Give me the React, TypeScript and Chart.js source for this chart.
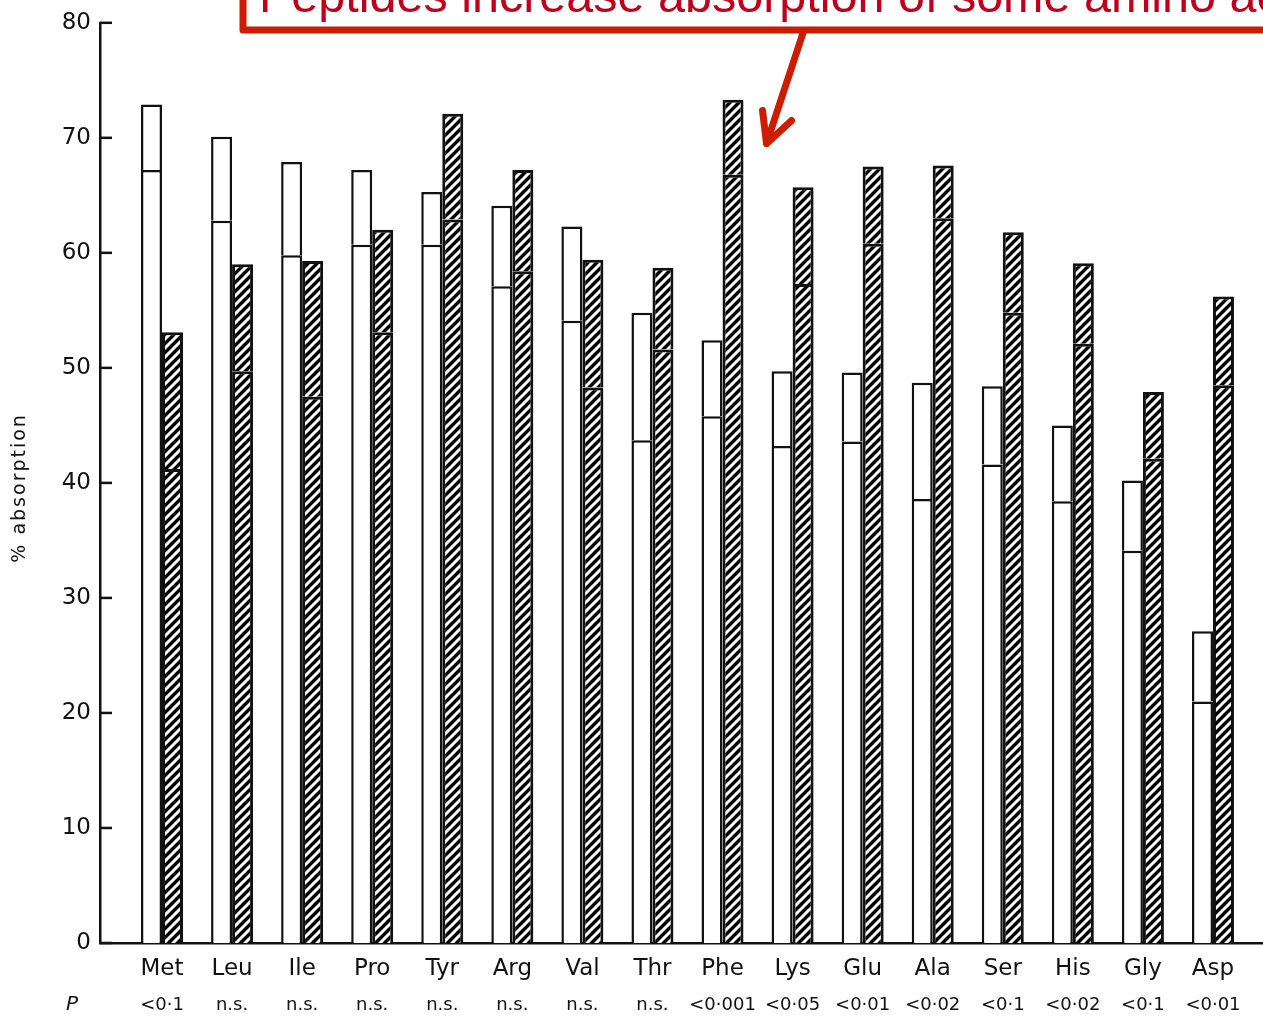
import React, { useEffect, useRef } from 'react';
import { Chart, registerables } from 'chart.js';

Chart.register(...registerables);

const categories = ['Met', 'Leu', 'Ile', 'Pro', 'Tyr', 'Arg', 'Val', 'Thr', 'Phe', 'Lys', 'Glu', 'Ala', 'Ser', 'His', 'Gly', 'Asp'];
const pValues = ['<0·1', 'n.s.', 'n.s.', 'n.s.', 'n.s.', 'n.s.', 'n.s.', 'n.s.', '<0·001', '<0·05', '<0·01', '<0·02', '<0·1', '<0·02', '<0·1', '<0·01'];
// free amino acid (open bars): top of bar and inner line
const freeTop = [72.9, 70.1, 67.9, 67.2, 65.3, 64.1, 62.3, 54.8, 52.4, 49.7, 49.6, 48.7, 48.4, 45.0, 40.2, 27.1];
const freeInner = [67.2, 62.8, 59.8, 60.7, 60.7, 57.1, 54.1, 43.7, 45.8, 43.2, 43.6, 38.6, 41.6, 38.4, 34.1, 21.0];
// peptide (hatched bars): top of bar and inner line
const peptideTop = [53.1, 59.0, 59.3, 62.0, 72.1, 67.2, 59.4, 58.7, 73.3, 65.7, 67.5, 67.6, 61.8, 59.1, 47.9, 56.2];
const peptideInner = [41.2, 49.7, 47.5, 53.1, 62.9, 58.4, 48.3, 51.6, 66.8, 57.3, 60.8, 63.0, 54.8, 52.1, 42.1, 48.5];
const yTicks = [0, 10, 20, 30, 40, 50, 60, 70, 80];
const yTitle = '% absorption';
const pLabel = 'P';
const annotationText = 'Peptides increase absorption of some amino acids';
const annotatedIndex = 8; // Phe
const annotatedValue = 69.5;

const INK = '#111';
const RED = '#cd1c00';
const RED_TEXT = '#c3001b';

function makeHatch(): CanvasPattern | string {
  const c = document.createElement('canvas');
  const s = 9;
  c.width = s;
  c.height = s;
  const g = c.getContext('2d');
  if (!g) return '#555';
  g.fillStyle = '#000';
  g.fillRect(0, 0, s, s);
  g.strokeStyle = '#fff';
  g.lineWidth = 3;
  g.beginPath();
  g.moveTo(-1, s + 1);
  g.lineTo(s + 1, -1);
  g.moveTo(-s / 2 - 1, s / 2 + 1);
  g.lineTo(s / 2 + 1, -s / 2 - 1);
  g.moveTo(s / 2 - 1, s * 1.5 + 1);
  g.lineTo(s * 1.5 + 1, s / 2 - 1);
  g.stroke();
  const p = g.createPattern(c, 'repeat');
  return p || '#555';
}

const decorPlugin = {
  id: 'decor',
  afterDraw(chart: any) {
    const ctx = chart.ctx as CanvasRenderingContext2D;
    const ys = chart.scales.y;
    const xs = chart.scales.x;
    const area = chart.chartArea;
    ctx.save();
    // inside tick marks on y axis
    ctx.strokeStyle = INK;
    ctx.lineWidth = 2.5;
    yTicks.forEach((v) => {
      const py = ys.getPixelForValue(v);
      ctx.beginPath();
      ctx.moveTo(area.left, py);
      ctx.lineTo(area.left + 12, py);
      ctx.stroke();
    });
    // y title
    ctx.save();
    ctx.translate(25, (area.top + area.bottom) / 2 + 5);
    ctx.rotate(-Math.PI / 2);
    ctx.fillStyle = INK;
    ctx.font = '19px "DejaVu Sans"';
    (ctx as any).letterSpacing = '2px';
    ctx.textAlign = 'center';
    ctx.textBaseline = 'alphabetic';
    ctx.fillText(yTitle, 0, 0);
    ctx.restore();
    // P row
    ctx.fillStyle = INK;
    ctx.textBaseline = 'middle';
    ctx.textAlign = 'center';
    ctx.font = 'italic 20px "DejaVu Sans"';
    ctx.fillText(pLabel, 72, 1005);
    ctx.font = '18px "DejaVu Sans"';
    pValues.forEach((p, i) => {
      ctx.fillText(p, xs.getPixelForValue(i), 1005);
    });
    // annotation box
    ctx.strokeStyle = RED;
    ctx.lineWidth = 7;
    ctx.lineJoin = 'round';
    ctx.beginPath();
    ctx.moveTo(243, -20);
    ctx.lineTo(243, 30);
    ctx.lineTo(1300, 30);
    ctx.stroke();
    ctx.fillStyle = RED_TEXT;
    ctx.font = '48.5px "Liberation Sans"';
    ctx.textAlign = 'left';
    ctx.textBaseline = 'alphabetic';
    ctx.fillText(annotationText, 259, 12);
    // arrow
    const tipX = xs.getPixelForValue(annotatedIndex) + 44;
    const tipY = ys.getPixelForValue(annotatedValue);
    ctx.strokeStyle = RED;
    ctx.lineWidth = 7;
    ctx.lineCap = 'round';
    ctx.beginPath();
    ctx.moveTo(803, 33);
    ctx.lineTo(tipX, tipY);
    ctx.moveTo(tipX - 4, tipY - 33);
    ctx.lineTo(tipX, tipY);
    ctx.lineTo(tipX + 25, tipY - 23);
    ctx.stroke();
    ctx.restore();
  },
};

export default function App() {
  const ref = useRef<HTMLCanvasElement | null>(null);
  useEffect(() => {
    if (!ref.current) return;
    const hatch = makeHatch();
    const common = {
      borderColor: INK,
      borderSkipped: 'start',
      barThickness: 21,
      inflateAmount: 0,
    };
    const chart = new Chart(ref.current, {
      type: 'bar',
      data: {
        datasets: [
          {
            ...common,
            label: 'free (lower)',
            stack: 'free',
            backgroundColor: '#fff',
            borderWidth: 2.5,
            data: freeInner.map((v, i) => ({ x: i, y: v })),
          },
          {
            ...common,
            label: 'free (upper)',
            stack: 'free',
            backgroundColor: '#fff',
            borderWidth: 2.5,
            data: freeTop.map((v, i) => ({ x: i, y: v - freeInner[i] })),
          },
          {
            ...common,
            label: 'peptide (lower)',
            stack: 'pep',
            backgroundColor: hatch,
            borderWidth: 3,
            data: peptideInner.map((v, i) => ({ x: i, y: v })),
          },
          {
            ...common,
            label: 'peptide (upper)',
            stack: 'pep',
            backgroundColor: hatch,
            borderWidth: 3,
            data: peptideTop.map((v, i) => ({ x: i, y: v - peptideInner[i] })),
          },
        ] as any,
      },
      options: {
        animation: false,
        responsive: false,
        maintainAspectRatio: false,
        layout: { padding: { top: 20, left: 0, right: 0, bottom: 0 } },
        plugins: { legend: { display: false }, tooltip: { enabled: false } },
        scales: {
          x: {
            type: 'linear',
            stacked: true,
            offset: false,
            min: -0.885,
            max: 15.714,
            grid: { display: false, drawTicks: false },
            border: { display: true, color: INK, width: 2.5 },
            ticks: {
              autoSkip: false,
              maxRotation: 0,
              padding: 12,
              color: INK,
              font: { family: '"DejaVu Sans"', size: 23 },
              callback: (v: any) => categories[v] ?? '',
            },
            afterBuildTicks: (axis: any) => {
              axis.ticks = categories.map((_, i) => ({ value: i }));
            },
            afterFit: (axis: any) => {
              axis.height = 73;
            },
          },
          y: {
            stacked: true,
            min: 0,
            max: 80,
            grid: { display: false, drawTicks: false },
            border: { display: true, color: INK, width: 2.5 },
            ticks: {
              stepSize: 10,
              padding: 9,
              color: INK,
              font: { family: '"DejaVu Sans"', size: 23 },
            },
            afterBuildTicks: (axis: any) => {
              axis.ticks = yTicks.map((v) => ({ value: v }));
            },
            afterFit: (axis: any) => {
              axis.width = 100;
            },
          },
        } as any,
      },
      plugins: [decorPlugin],
    });
    return () => chart.destroy();
  }, []);
  return (
    <div style={{ position: 'absolute', left: 0, top: 0, width: 1263, height: 1016, background: '#fff' }}>
      <canvas ref={ref} width={1263} height={1016} style={{ display: 'block' }} />
    </div>
  );
}
